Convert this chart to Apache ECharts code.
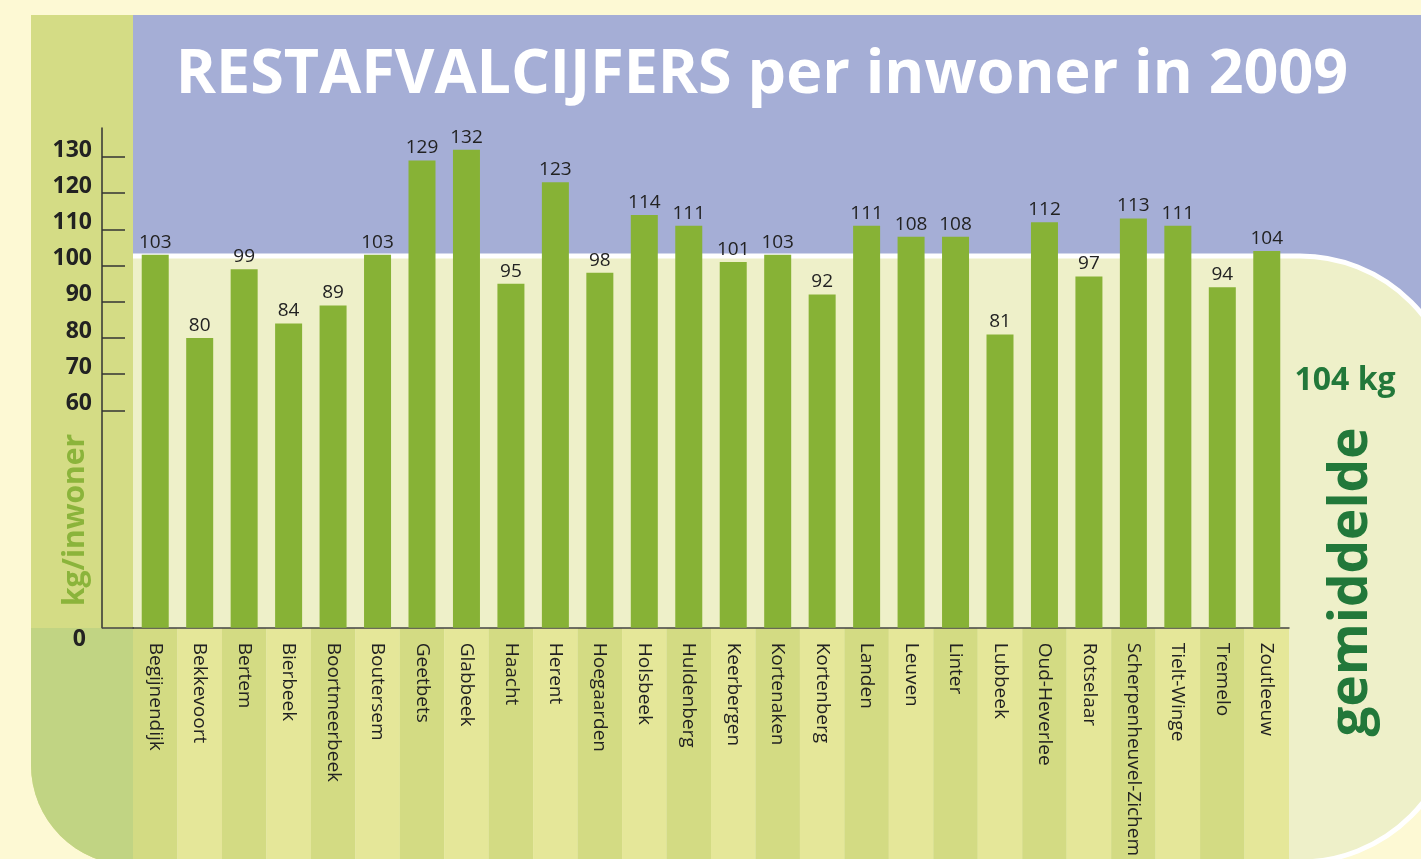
<!DOCTYPE html>
<html><head><meta charset="utf-8">
<script src="https://cdn.jsdelivr.net/npm/echarts@6/dist/echarts.min.js"></script>
<style>html,body{margin:0;padding:0;background:#FDF9D4;}#c{width:1421px;height:859px;}</style>
</head><body><div id="c"></div>
<script>
const categories = ['Begijnendijk','Bekkevoort','Bertem','Bierbeek','Boortmeerbeek','Boutersem','Geetbets','Glabbeek','Haacht','Herent','Hoegaarden','Holsbeek','Huldenberg','Keerbergen','Kortenaken','Kortenberg','Landen','Leuven','Linter','Lubbeek','Oud-Heverlee','Rotselaar','Scherpenheuvel-Zichem','Tielt-Winge','Tremelo','Zoutleeuw'];
const values = [103,80,99,84,89,103,129,132,95,123,98,114,111,101,103,92,111,108,108,81,112,97,113,111,94,104];
const yTickValues = [60,70,80,90,100,110,120,130];
const yLabelValues = [0,60,70,80,90,100,110,120,130];
const average = 104;
const titleText = 'RESTAFVALCIJFERS per inwoner in 2009';
const unitText = 'kg/inwoner';
const averageText = 'gemiddelde';
const averageUnit = ' kg';

const FF = '"Open Sans", "Noto Sans", sans-serif';
const chart = echarts.init(document.getElementById('c'));
chart.setOption({
  animation: false,
  backgroundColor: '#FDF9D4',
  graphic: [
    {type:'rect', z:-10, shape:{x:133,y:15,width:1400,height:400}, style:{fill:'#A5AED6'}},
    {type:'rect', z:-9, shape:{x:100,y:256,width:1357,height:606,r:[0,157,157,0]}, style:{fill:'#EEF0C9',stroke:'#FFFFFF',lineWidth:5}},
    {type:'rect', z:-8, shape:{x:31,y:15,width:102,height:850,r:[0,0,0,100]}, style:{fill:'#D4DC85'}},
    {type:'rect', z:-7, shape:{x:31,y:628,width:102,height:237,r:[0,0,0,100]}, style:{fill:'#C1D483'}},
    {type:'line', z:5, shape:{x1:102,y1:628,x2:134,y2:628}, style:{stroke:'#444',lineWidth:1.5}},
    {type:'text', z:10, x:762, y:76, style:{text:titleText, fill:'#FFFFFF', font:'bold 61px ' + FF, textAlign:'center', textVerticalAlign:'middle'}},
    {type:'text', z:10, x:75, y:520, rotation:Math.PI/2, style:{text:unitText, fill:'#8BB43B', font:'bold 30px ' + FF, textAlign:'center', textVerticalAlign:'middle'}},
    {type:'text', z:10, x:1345, y:381, style:{text:average + averageUnit, fill:'#22783A', font:'bold 32px ' + FF, textAlign:'center', textVerticalAlign:'middle'}},
    {type:'text', z:10, x:1352, y:582, rotation:Math.PI/2, style:{text:averageText, fill:'#22783A', font:'bold 53px ' + FF, textAlign:'center', textVerticalAlign:'middle'}}
  ],
  grid: [
    {left:133, right:132, top:128, height:500},
    {left:133, right:132, top:628, bottom:-10}
  ],
  xAxis: [
    {type:'category', gridIndex:0, data:categories,
     axisLine:{show:true, lineStyle:{color:'#444', width:1.5}},
     axisTick:{show:false},
     axisLabel:{rotate:-90, margin:15, fontSize:19, color:'#222', fontFamily:FF, interval:0}},
    {type:'category', gridIndex:1, data:categories,
     axisLine:{show:false}, axisTick:{show:false}, axisLabel:{show:false},
     splitLine:{show:false},
     splitArea:{show:true, interval:0, areaStyle:{color:['#D3DB83','#E5E799']}}}
  ],
  yAxis: [
    {type:'value', gridIndex:0, min:0, max:138, offset:31,
     splitLine:{show:false},
     axisLine:{show:true, lineStyle:{color:'#333', width:1.5}},
     axisTick:{show:true, inside:true, length:23, customValues:yTickValues, lineStyle:{color:'#333', width:1.5}},
     axisLabel:{customValues:yLabelValues, margin:10,
       formatter: v => v === 0 ? '{z|0}' : '{a|' + v + '}',
       rich:{
         a:{fontSize:23, fontWeight:'bold', color:'#222', fontFamily:FF, padding:[0,0,14,0]},
         z:{fontSize:23, fontWeight:'bold', color:'#222', fontFamily:FF, padding:[24,6,0,0]}
       }}},
    {type:'value', gridIndex:1, show:false}
  ],
  series: [{
    type:'bar', xAxisIndex:0, yAxisIndex:0, data:values, barWidth:27,
    itemStyle:{color:'#87B236'},
    label:{show:true, position:'top', distance:3, fontSize:19, color:'#222', fontFamily:FF}
  }]
});
</script></body></html>
